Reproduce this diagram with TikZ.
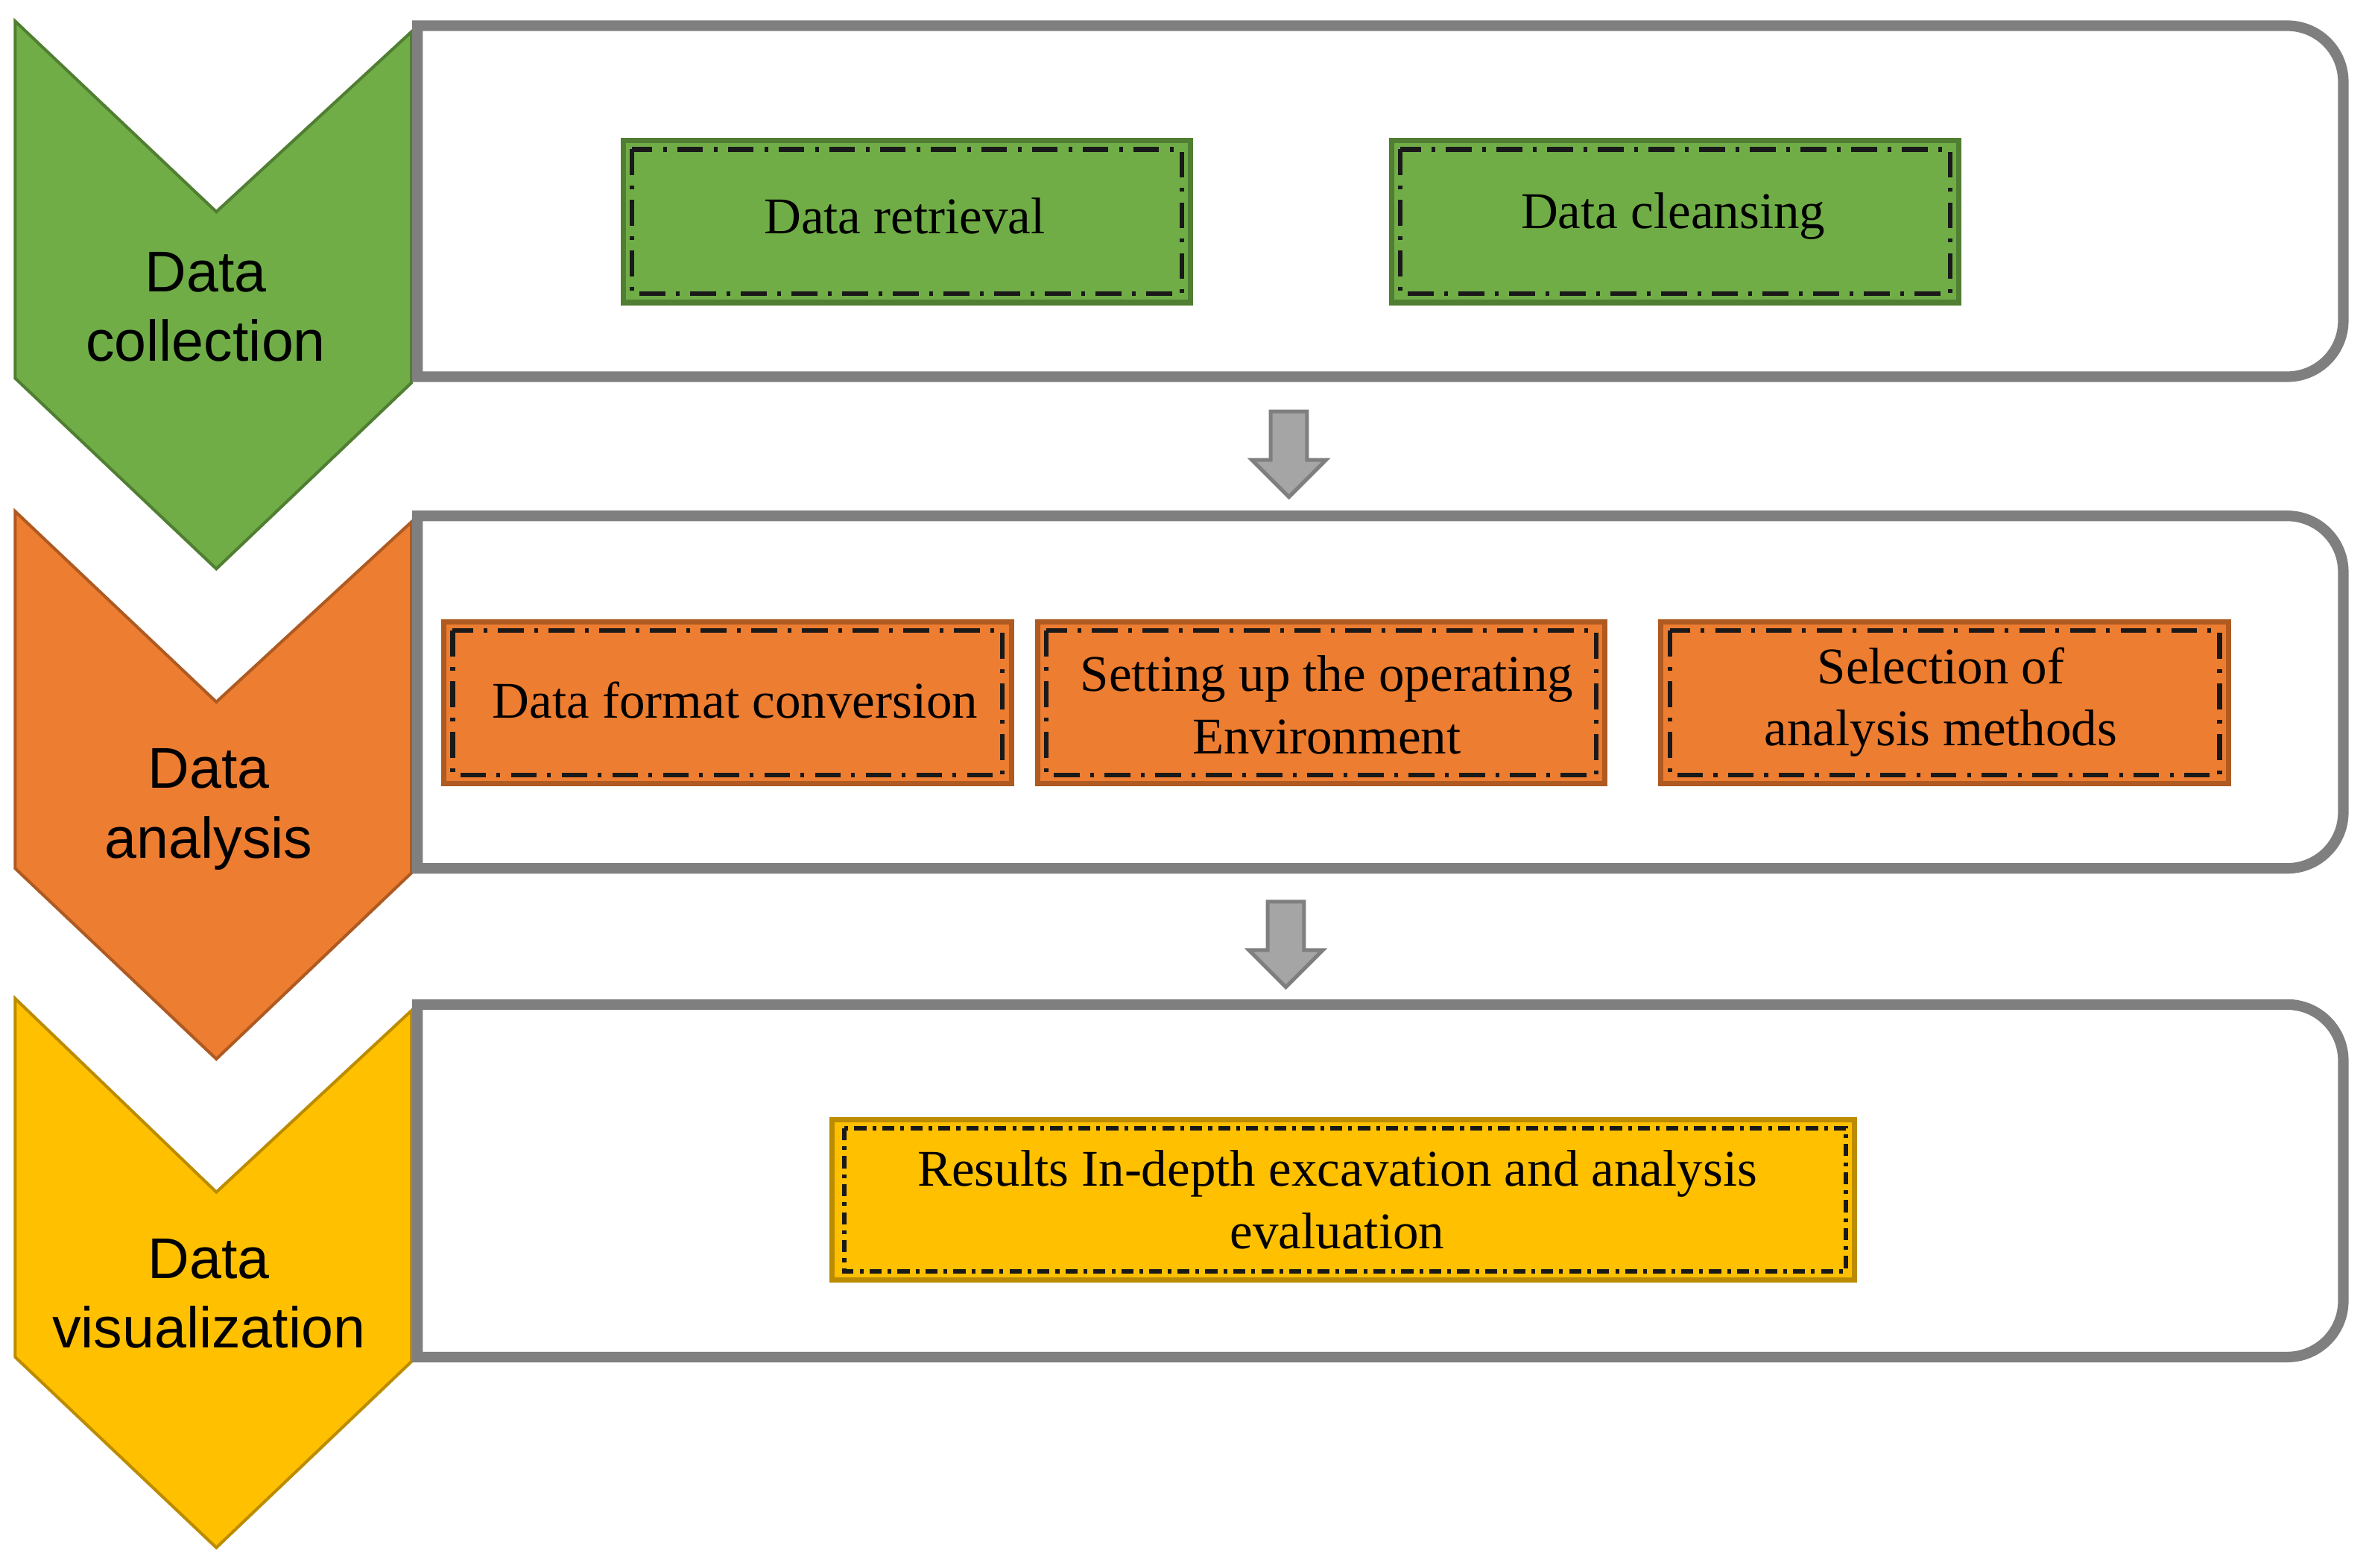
\documentclass[tikz,border=0pt]{standalone}
\usepackage{fontspec}
\setmainfont{Liberation Serif}
\newfontfamily\arialf{Liberation Sans}
\definecolor{gfill}{HTML}{70AD47}
\definecolor{gline}{HTML}{507E32}
\definecolor{ofill}{HTML}{ED7D31}
\definecolor{oline}{HTML}{AE5A21}
\definecolor{yfill}{HTML}{FFC000}
\definecolor{yline}{HTML}{BC8C00}
\definecolor{panelgray}{HTML}{7F7F7F}
\definecolor{arrowfill}{HTML}{A5A5A5}
\begin{document}
\begin{tikzpicture}[x=1pt,y=-1pt,
  chevron/.style={line width=2pt, line join=miter},
  stagetext/.style={align=center, inner sep=0pt, font=\arialf\fontsize{38}{46}\selectfont},
  panel/.style={draw=panelgray, line width=7pt, line join=miter},
  blockarrow/.style={draw=panelgray, fill=arrowfill, line width=2.5pt, line join=miter},
  taskbox/.style={rectangle, line width=3.5pt, minimum width=375pt, minimum height=107pt, inner sep=0pt, align=center, font=\fontsize{34}{41}\selectfont},
  gbox/.style={taskbox, fill=gfill, draw=gline},
  obox/.style={taskbox, fill=ofill, draw=oline},
  ybox/.style={taskbox, fill=yfill, draw=yline, minimum width=676pt, minimum height=106pt},
  dashdot/.style={draw=black!90, line width=3pt, dash pattern=on 17pt off 7pt on 2.5pt off 7pt},
  dashdotshort/.style={draw=black!90, line width=2.8pt, dash pattern=on 8pt off 4pt on 2.5pt off 4pt},
  boxtext/.style={align=center, inner sep=0pt, font=\fontsize{34}{41}\selectfont}
]
\useasboundingbox[fill=white] (0,0) rectangle (1568,1036);

% chevrons
\path[chevron, fill=gfill, draw=gline] (10,14) -- (143,140) -- (272,21) -- (272,253) -- (143,376) -- (10,250) -- cycle;
\path[chevron, fill=ofill, draw=oline] (10,338) -- (143,464) -- (272,345) -- (272,577) -- (143,700) -- (10,574) -- cycle;
\path[chevron, fill=yfill, draw=yline] (10,660) -- (143,788) -- (272,668) -- (272,900) -- (143,1023) -- (10,897) -- cycle;

\node[stagetext] (s1) at (136,203) {Data\\collection};
\node[stagetext] (s2) at (138,535) {Data\\analysis};
\node[stagetext] (s3) at (138,855) {Data\\visualization};

% panels
\draw[panel] (276,249) -- (276,17) -- (1512,17) arc[start angle=90, end angle=0, radius=37pt] -- (1549,212) arc[start angle=0, end angle=-90, radius=37pt] -- cycle;
\draw[panel] (276,574) -- (276,341) -- (1512,341) arc[start angle=90, end angle=0, radius=37pt] -- (1549,537) arc[start angle=0, end angle=-90, radius=37pt] -- cycle;
\draw[panel] (276,897) -- (276,664) -- (1512,664) arc[start angle=90, end angle=0, radius=37pt] -- (1549,860) arc[start angle=0, end angle=-90, radius=37pt] -- cycle;

% block arrows
\path[blockarrow] (840,272) -- (864,272) -- (864,304) -- (876.5,304) -- (852,328.5) -- (827.5,304) -- (840,304) -- cycle;
\path[blockarrow] (838,596) -- (862,596) -- (862,628) -- (874.5,628) -- (850,652.5) -- (825.5,628) -- (838,628) -- cycle;

% task boxes
\node[gbox] (b1) at (599.5,146.5) {};
\node[gbox] (b2) at (1107.5,146.5) {};
\node[obox] (b3) at (481,464.5) {};
\node[obox] (b4) at (873.5,464.5) {};
\node[obox] (b5) at (1285.5,464.5) {};
\node[ybox] (b6) at (888,793) {};

\foreach \b in {b1,b2,b3,b4,b5}{
  \draw[dashdot] ([shift={(7.5pt,-7.5pt)}]\b.north west) rectangle ([shift={(-7.5pt,7.5pt)}]\b.south east);
}
\draw[dashdotshort] ([shift={(10pt,-7.5pt)}]b6.north west) rectangle ([shift={(-7.5pt,7.5pt)}]b6.south east);

\node[boxtext] (l1) at (598,143) {Data retrieval};
\node[boxtext] (l2) at (1106,143) {Data cleansing};
\node[boxtext] (l3) at (486,463) {Data format conversion};
\node[boxtext] (l4) at (877,466) {Setting up the operating\\Environment};
\node[boxtext] (l5) at (1283,464) {Selection of\\analysis methods};
\node[boxtext] (l6) at (884,793) {Results In-depth excavation and analysis\\evaluation};
\end{tikzpicture}
\end{document}
